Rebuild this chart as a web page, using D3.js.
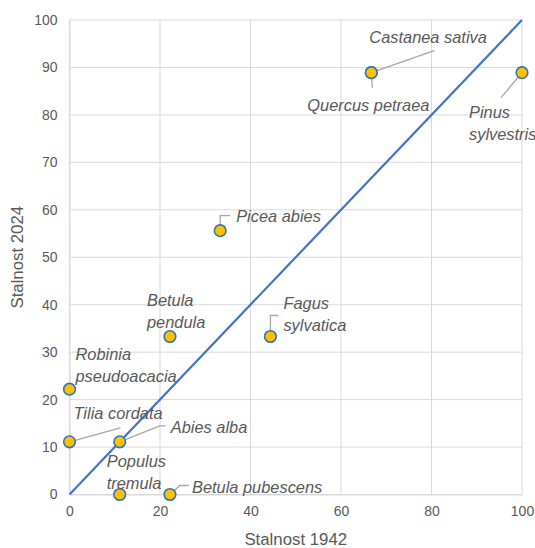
<!DOCTYPE html>
<html><head><meta charset="utf-8">
<script src="https://cdn.jsdelivr.net/npm/d3@7"></script>
<style>
body{margin:0;background:#fff;}
text{font-family:"Liberation Sans",Arial,sans-serif;}
</style></head>
<body><svg id="c" width="535" height="548"></svg>
<script>
const species = ["Robinia pseudoacacia","Tilia cordata","Abies alba","Populus tremula","Betula pubescens","Betula pendula","Picea abies","Fagus sylvatica","Quercus petraea","Castanea sativa","Pinus sylvestris"];
const stalnost1942 = [0, 0, 11.1, 11.1, 22.2, 22.2, 33.3, 44.4, 66.7, 66.7, 100];
const stalnost2024 = [22.2, 11.1, 11.1, 0, 0, 33.3, 55.6, 33.3, 88.9, 88.9, 88.9];
const xTicks = [0,20,40,60,80,100];
const yTicks = [0,10,20,30,40,50,60,70,80,90,100];

// label layout (pixel offsets from marker): text lines, text anchor offset, leader path
const layout = {
 "Robinia pseudoacacia": {lines:["Robinia","pseudoacacia"], dx:6, dy:-29, leader:null},
 "Tilia cordata": {lines:["Tilia cordata"], dx:4, dy:-23, leader:[[0,0],[51,-14]]},
 "Abies alba": {lines:["Abies alba"], dx:51, dy:-9, leader:[[0,0],[40,-16],[46,-16]]},
 "Populus tremula": {lines:["Populus","tremula"], dx:-13, dy:-28, leader:null},
 "Betula pubescens": {lines:["Betula pubescens"], dx:22, dy:-2, leader:[[0,0],[10,-9],[19,-9]]},
 "Betula pendula": {lines:["Betula","pendula"], dx:-23, dy:-30, leader:null},
 "Picea abies": {lines:["Picea abies"], dx:16, dy:-9, leader:[[0,-5],[0,-15],[10,-15]]},
 "Fagus sylvatica": {lines:["Fagus","sylvatica"], dx:13, dy:-27, leader:[[0,-3],[0,-21],[8,-21]]},
 "Quercus petraea": {lines:["Quercus petraea"], dx:-64, dy:38, leader:[[0,0],[1,15]]},
 "Castanea sativa": {lines:["Castanea sativa"], dx:-2, dy:-30, leader:[[0,0],[63,-22]]},
 "Pinus sylvestris": {lines:["Pinus","sylvestris"], dx:-53, dy:45, leader:[[0,0],[-21,25]]}
};

const svg = d3.select("#c");
const m = {l:69.5, r:13, t:20, b:53.5};
const W = 535, H = 548;
const x = d3.scaleLinear().domain([0,100]).range([m.l, W-m.r]);
const y = d3.scaleLinear().domain([0,100]).range([H-m.b, m.t]);
const grey = "#595959";
const ff = "'Liberation Sans',Arial,sans-serif";

// gridlines
svg.append("g").selectAll("line").data(yTicks).join("line")
 .attr("x1", x(0)).attr("x2", x(100)).attr("y1", d=>y(d)).attr("y2", d=>y(d))
 .attr("stroke", "#d9d9d9").attr("stroke-width", 1);
svg.append("g").selectAll("line").data(xTicks).join("line")
 .attr("y1", y(0)).attr("y2", y(100)).attr("x1", d=>x(d)).attr("x2", d=>x(d))
 .attr("stroke", "#d9d9d9").attr("stroke-width", 1);

// axes with d3 axis, styled
const xa = svg.append("g").attr("transform", `translate(0,${y(0)})`)
 .call(d3.axisBottom(x).tickValues(xTicks).tickSize(0).tickPadding(12));
const ya = svg.append("g").attr("transform", `translate(${x(0)},0)`)
 .call(d3.axisLeft(y).tickValues(yTicks).tickSize(0).tickPadding(12));
[xa, ya].forEach(a=>{
 a.select(".domain").attr("stroke","#d9d9d9");
 a.selectAll("text").attr("fill", grey).style("font-size","14px").style("font-family",ff);
});

// axis titles
svg.append("text").attr("x", (x(0)+x(100))/2).attr("y", 545).attr("text-anchor","middle")
 .attr("fill", grey).style("font-size","16.8px").text("Stalnost 1942");
svg.append("text").attr("transform", `translate(23,${(y(0)+y(100))/2}) rotate(-90)`).attr("text-anchor","middle")
 .attr("fill", grey).style("font-size","16.8px").text("Stalnost 2024");

// diagonal line
svg.append("line").attr("x1", x(0)).attr("y1", y(0)).attr("x2", x(100)).attr("y2", y(100))
 .attr("stroke", "#4472c4").attr("stroke-width", 2.2);

const pts = species.map((s,i)=>({s, a:stalnost1942[i], b:stalnost2024[i]}));

// leaders
svg.append("g").selectAll("path").data(pts.filter(d=>layout[d.s].leader)).join("path")
 .attr("d", d=>{const px=x(d.a), py=y(d.b); return d3.line()(layout[d.s].leader.map(p=>[px+p[0], py+p[1]]));})
 .attr("fill","none").attr("stroke","#a6a6a6").attr("stroke-width",1.3);

// markers
svg.append("g").selectAll("circle").data(pts).join("circle")
 .attr("cx", d=>x(d.a)).attr("cy", d=>y(d.b)).attr("r", 5.8)
 .attr("fill", "#ffc000").attr("stroke", "#2e75b6").attr("stroke-width", 1.6);

// labels
const lg = svg.append("g");
pts.forEach(d=>{
 const L = layout[d.s];
 const t = lg.append("text").attr("x", x(d.a)+L.dx).attr("y", y(d.b)+L.dy)
  .attr("fill", grey).style("font-size","16.4px").style("font-style","italic");
 L.lines.forEach((ln,i)=>t.append("tspan").attr("x", x(d.a)+L.dx).attr("dy", i?22:0).text(ln));
});
</script></body></html>
